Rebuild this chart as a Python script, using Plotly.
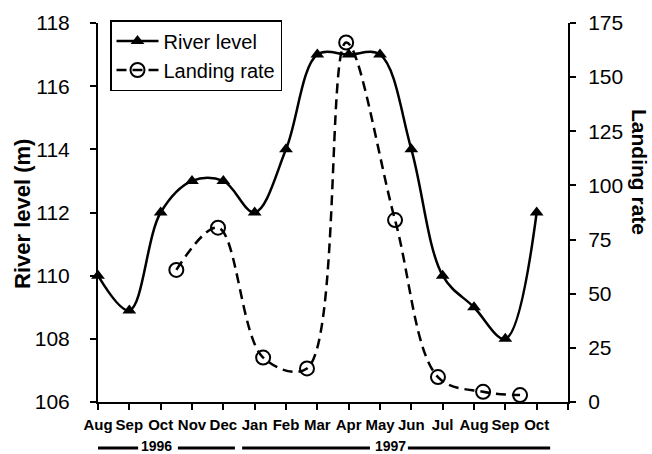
import plotly.graph_objects as go

# ---- data ----
months = ["Aug", "Sep", "Oct", "Nov", "Dec", "Jan", "Feb", "Mar",
          "Apr", "May", "Jun", "Jul", "Aug", "Sep", "Oct"]
river_x = list(range(len(months)))
river_level = [110, 108.9, 112, 113, 113, 112, 114, 117, 117, 117, 114, 110, 109, 108, 112]

landing_x = [2.5, 3.83, 5.27, 6.67, 7.92, 9.48, 10.85, 12.29, 13.47]
landing_rate = [61, 80.5, 20.5, 15.5, 166, 84, 11.5, 4.7, 3.2]

tick_vals = list(range(len(months) + 1))
tick_text = months + [""]
years = ["1996", "1997"]

W, H = 652, 454
L, R, T, B = 98, 84, 23, 52
PW, PH = W - L - R, H - T - B

def px_x(p):
    return (p - L) / PW

def px_y(p):
    return (H - B - p) / PH

FONT = "Liberation Sans, Arial, sans-serif"

fig = go.Figure()
fig.add_trace(go.Scatter(
    x=river_x, y=river_level, name="River level", legendgroup="a",
    mode="lines+markers", line=dict(color="black", width=2.5, shape="spline", smoothing=1),
    marker=dict(symbol="triangle-up", size=12, color="black"),
    cliponaxis=False, yaxis="y"))
fig.add_trace(go.Scatter(
    x=landing_x, y=landing_rate, name="Landing rate", legendgroup="b",
    mode="lines+markers", line=dict(color="black", width=2.5, shape="spline", smoothing=1, dash="10px,6px"),
    marker=dict(symbol="circle-open", size=14, color="black", line=dict(width=2)),
    cliponaxis=False, yaxis="y2"))

axis_common = dict(showline=True, linecolor="black", linewidth=2, ticks="outside",
                   ticklen=6, tickwidth=2, tickcolor="black", showgrid=False, zeroline=False)

fig.update_layout(
    width=W, height=H, margin=dict(l=L, r=R, t=T, b=B, pad=0),
    paper_bgcolor="white", plot_bgcolor="white",
    font=dict(family=FONT, color="black"),
    xaxis=dict(range=[0, 15], tickvals=tick_vals, ticktext=tick_text,
               tickfont=dict(size=15, family="Liberation Sans, Arial", weight="bold"),
               ticklabelstandoff=2, **axis_common),
    yaxis=dict(range=[106, 118], dtick=2, tickfont=dict(size=21),
               ticklabelstandoff=16, **axis_common),
    yaxis2=dict(range=[0, 175], dtick=25, overlaying="y", side="right",
                tickfont=dict(size=21), ticklabelstandoff=8, **axis_common),
    legend=dict(x=px_x(110), y=px_y(20), xanchor="left", yanchor="top",
                bordercolor="black", borderwidth=1.5, bgcolor="white",
                font=dict(size=20), tracegroupgap=0, traceorder="grouped",
                itemwidth=42),
    showlegend=True,
)

# axis titles
fig.add_annotation(text="<b>River level (m)</b>", xref="paper", yref="paper",
                   x=px_x(22), y=px_y(214), textangle=-90, showarrow=False,
                   font=dict(size=22), xanchor="center", yanchor="middle")
fig.add_annotation(text="<b>Landing rate</b>", xref="paper", yref="paper",
                   x=px_x(640), y=px_y(172), textangle=90, showarrow=False,
                   font=dict(size=21), xanchor="center", yanchor="middle")

# year labels with bars
yb = px_y(448)
segs = [(-0.54, 1.28), (2.55, 4.37), (4.6, 8.68), (9.89, 14.43)]
for x0, x1 in segs:
    fig.add_shape(type="line", xref="x", yref="paper", x0=x0, x1=x1, y0=yb, y1=yb,
                  line=dict(color="black", width=3))
for yr, xc in zip(years, [1.88, 9.32]):
    fig.add_annotation(text="<b>%s</b>" % yr, xref="x", yref="paper", x=xc, y=px_y(446),
                       showarrow=False, font=dict(size=14), xanchor="center", yanchor="middle")

fig.write_html("out.html", config={"displayModeBar": False},
               post_script="document.body.style.margin='0';document.body.style.padding='0';")
